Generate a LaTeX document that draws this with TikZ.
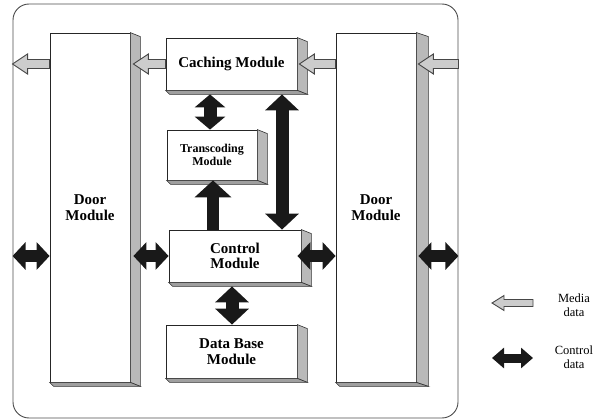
\documentclass[tikz,border=0pt]{standalone}
\usepackage{fontspec}
\setmainfont{Liberation Serif}
\usetikzlibrary{arrows.meta,calc}
\newcommand\threed[3]{%
  \draw[sideface] (#1.north east) -- ++(#2,#3) -- ($(#1.south east)+(#2,#3)$) -- (#1.south east) -- cycle;
  \draw[bottomface] (#1.south west) -- (#1.south east) -- ++(#2,#3) -- ($(#1.south west)+(#3,#3)$) -- cycle;}
\newcommand\mediaarrow[5]{%
  \path[media] let \p1=#1, \p2=#2 in
   (\x1,\y2+#4) -- (\x2+#5,\y2+#4) -- (\x2+#5,\y2+#3) -- (\x2,\y2) -- (\x2+#5,\y2-#3) -- (\x2+#5,\y2-#4) -- (\x1,\y2-#4) -- cycle;}
\begin{document}
\begin{tikzpicture}[x=1pt,y=-1pt,
  modbox/.style={draw=black!85, line width=0.8pt, fill=white, inner sep=0pt,
    font=\bfseries\fontsize{15}{15.5}\selectfont, align=center},
  sideface/.style={draw=black!80, line width=0.6pt, fill=gray!55},
  bottomface/.style={draw=black!80, line width=0.6pt, fill=gray!75},
  ctrlarr/.style={line width=12pt, black!90, {Triangle[length=13pt,width=27pt]}-{Triangle[length=13pt,width=27pt]}},
  vctrl/.style={line width=13pt, black!90, {Triangle[length=16pt,width=33pt]}-{Triangle[length=16pt,width=33pt]}},
  vctrlsmall/.style={line width=13pt, black!90, {Triangle[length=13pt,width=30pt]}-{Triangle[length=13pt,width=30pt]}},
  vctrlone/.style={line width=12pt, black!90, -{Triangle[length=17pt,width=36pt]}},
  legctrl/.style={line width=9pt, black!90, {Triangle[length=12pt,width=20pt]}-{Triangle[length=12pt,width=20pt]}},
  media/.style={draw=gray!55!black, fill=gray!40, line width=0.9pt, line join=miter},
  legtext/.style={font=\fontsize{12.5}{14.5}\selectfont, align=center, inner sep=0pt}
]
\useasboundingbox (0,0) rectangle (606,420);
\node[draw=black!70, line width=0.9pt, rounded corners=16pt, minimum width=445, minimum height=414, inner sep=0pt] (frame) at (235.5,211) {};

\node[modbox, minimum width=80, minimum height=349] (doorL) at (90,207.5) {Door\\Module};
\node[modbox, minimum width=80, minimum height=349] (doorR) at (376,207.5) {Door\\Module};
\node[modbox, minimum width=131, minimum height=52] (cache) at (231.5,64) {Caching Module};
\node[modbox, minimum width=90, minimum height=50, font=\bfseries\fontsize{12}{13.5}\selectfont] (trans) at (212,155) {Transcoding\\Module};
\node[modbox, minimum width=132, minimum height=52] (ctrl) at (235,256) {Control\\Module};
\node[modbox, minimum width=131, minimum height=53] (db) at (231.5,351.5) {Data Base\\Module};

\threed{doorL}{10}{4}
\threed{doorR}{12}{4}
\threed{cache}{10}{4}
\threed{trans}{10}{4}
\threed{ctrl}{10}{4}
\threed{db}{10}{4}

% media data arrows
\mediaarrow{(doorL.west |- cache.west)}{(frame.west |- cache.west)}{10pt}{4.5pt}{15pt}
\mediaarrow{(cache.west)}{($(doorL.east |- cache.west)+(3,0)$)}{10pt}{4.5pt}{15pt}
\mediaarrow{(doorR.west |- cache.west)}{($(cache.east)+(2,0)$)}{10pt}{4.5pt}{15pt}
\mediaarrow{(frame.east |- cache.west)}{($(doorR.east |- cache.west)+(2,0)$)}{10pt}{4.5pt}{15pt}

% control data arrows
\draw[ctrlarr] (frame.west |- ctrl.west) -- (doorL.west |- ctrl.west);
\draw[ctrlarr] ($(doorL.east |- ctrl.west)+(3,0)$) -- (ctrl.west);
\draw[ctrlarr] ($(ctrl.east)+(-4,0)$) -- (doorR.west |- ctrl.west);
\draw[ctrlarr] ($(doorR.east |- ctrl.west)+(2,0)$) -- (frame.east |- ctrl.west);

\draw[vctrlsmall] ($(cache.south -| trans.north)+(-2,4)$) -- ($(trans.north)+(-2,0)$);
\draw[vctrlone] ($(ctrl.north -| trans.south)+(1,0)$) -- ($(trans.south)+(1,0)$);
\draw[vctrl] ($(cache.south)+(50.5,4)$) -- ($(ctrl.north)+(47,0)$);
\draw[vctrl] ($(ctrl.south)+(-3,4)$) -- ($(db.north)+(0.5,0)$);

% legend
\coordinate (lmtail) at (533,303);
\coordinate (lmtip) at (492,303);
\mediaarrow{(lmtail)}{(lmtip)}{7.5pt}{3.5pt}{12pt}
\node[legtext] (lmtext) at (574,305) {Media\\data};
\coordinate (lcl) at (492,358);
\coordinate (lcr) at (533,358);
\draw[legctrl] (lcl) -- (lcr);
\node[legtext] (lctext) at (574,357) {Control\\data};
\end{tikzpicture}
\end{document}
